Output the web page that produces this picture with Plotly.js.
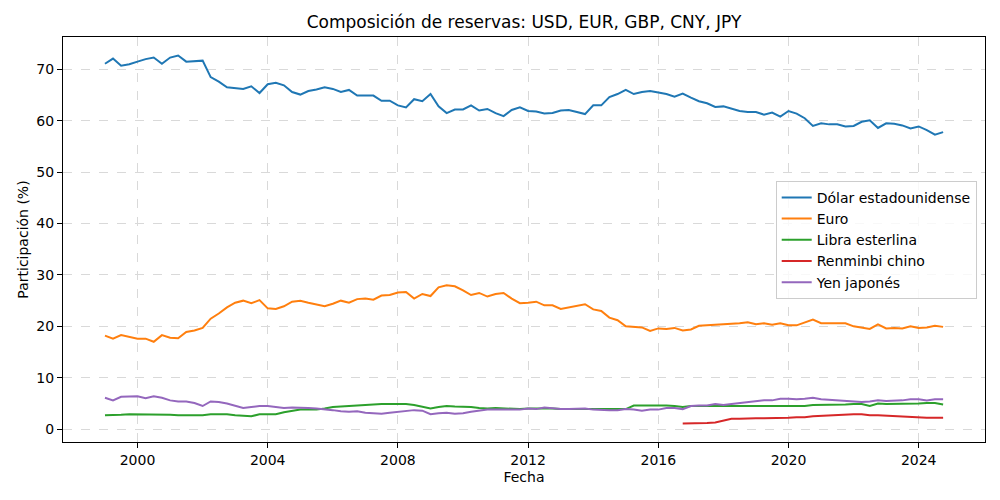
<!DOCTYPE html>
<html>
<head>
<meta charset="utf-8">
<script src="https://cdn.plot.ly/plotly-3.0.1.min.js"></script>
<style>html,body{margin:0;padding:0;background:#fff;}#chart{width:1000px;height:500px;}</style>
</head>
<body>
<div id="chart"></div>
<script>
// Quarterly observations, 1999 Q1 to 2024 Q4
const startYear = 1999;
const numQuarters = 104;

const seriesNames = ["Dólar estadounidense", "Euro", "Libra esterlina", "Renminbi chino", "Yen japonés"];
const seriesColors = ["#1f77b4", "#ff7f0e", "#2ca02c", "#d62728", "#9467bd"];

const usd = [71.1,72.1,70.7,71.0,71.5,72.0,72.3,71.1,72.3,72.7,71.5,71.6,71.7,68.5,67.6,66.5,66.4,66.2,66.7,65.4,67.1,67.4,66.9,65.6,65.1,65.8,66.1,66.5,66.2,
  65.6,66.0,64.9,64.9,64.9,63.9,63.9,63.0,62.6,64.2,63.8,65.2,62.8,61.5,62.2,62.2,63.0,62.0,62.3,61.5,60.9,62.1,62.6,61.9,61.8,61.4,61.5,62.0,
  62.1,61.7,61.3,63.0,63.0,64.6,65.2,66.0,65.2,65.6,65.8,65.5,65.2,64.7,65.3,64.5,63.8,63.4,62.7,62.8,62.4,61.9,61.7,61.7,61.2,61.6,60.8,61.9,
  61.4,60.5,59.0,59.5,59.3,59.3,58.9,59.0,59.8,60.1,58.6,59.5,59.4,59.1,58.5,58.9,58.2,57.3,57.8];

const eur = [18.2,17.6,18.3,18.0,17.6,17.6,17.0,18.3,17.8,17.7,18.9,19.2,19.7,21.5,22.5,23.7,24.6,25.0,24.5,25.1,23.5,23.4,23.9,24.8,25.0,24.6,24.2,23.9,24.4,25.0,24.6,25.3,25.4,25.2,26.0,26.1,
  26.6,26.7,25.4,26.3,25.9,27.6,28.0,27.8,27.0,26.1,26.5,25.8,26.3,26.5,25.4,24.5,24.6,24.8,24.1,24.1,23.4,23.7,24.0,24.3,23.3,23.0,21.7,21.2,20.0,19.9,19.8,19.1,19.6,19.5,19.7,19.2,19.4,
  20.1,20.2,20.3,20.4,20.4,20.6,20.8,20.4,20.6,20.3,20.6,20.2,20.2,20.7,21.3,20.6,20.6,20.6,20.6,20.0,19.7,19.5,20.4,19.6,19.7,19.6,20.0,19.7,19.8,20.1,19.9];

const gbp = [2.7,2.7,2.8,2.9,2.9,2.8,2.8,2.8,2.8,2.7,2.7,2.7,2.7,2.9,2.9,2.9,2.7,2.6,2.5,2.9,2.9,2.9,3.3,3.6,3.8,3.8,3.8,4.0,4.3,4.4,4.5,4.7,4.7,4.9,4.9,4.9,
  4.9,4.9,4.7,4.3,4.0,4.3,4.5,4.4,4.4,4.3,4.1,4.0,4.1,4.0,4.0,3.9,4.0,4.0,4.1,4.0,3.9,3.9,3.9,3.9,3.8,3.8,3.8,3.8,3.9,4.6,4.6,4.7,4.7,4.6,
  4.5,4.3,4.5,4.5,4.5,4.6,4.6,4.5,4.5,4.5,4.5,4.5,4.5,4.6,4.5,4.5,4.5,4.7,4.7,4.7,4.8,4.8,4.9,4.9,4.5,5.0,4.9,4.9,4.9,5.0,5.0,5.1,5.1,4.8];

// Renminbi reported from 2016 Q4 (quarter index 71) onwards
const cnyStartIndex = 71;
const cny = [1.1,1.1,1.1,1.2,1.3,1.6,2.0,2.0,2.1,2.1,2.1,2.1,2.1,2.2,2.3,2.3,2.5,2.6,2.7,2.8,2.9,2.9,2.9,2.7,2.7,2.6,2.5,2.4,2.3,2.2,2.2,2.2,2.2];

const jpy = [6.1,5.6,6.3,6.4,6.4,6.0,6.4,6.1,5.6,5.4,5.4,5.1,4.5,5.4,5.3,5.0,4.6,4.1,4.3,4.5,4.5,4.3,4.1,4.2,4.2,4.1,4.0,3.9,3.7,3.5,3.4,3.5,3.2,3.1,3.0,3.2,
  3.4,3.6,3.7,3.6,2.9,3.1,3.2,3.0,3.1,3.4,3.6,3.8,3.8,3.8,3.8,3.8,4.0,3.9,4.2,4.0,3.9,3.9,3.9,4.0,3.8,3.7,3.7,3.7,3.9,3.8,3.6,3.8,3.8,4.1,
  4.1,3.9,4.5,4.6,4.6,4.9,4.7,4.9,5.1,5.3,5.4,5.6,5.6,5.9,5.9,5.8,5.9,6.1,5.8,5.7,5.7,5.6,5.4,5.3,5.4,5.6,5.5,5.5,5.6,5.8,5.8,5.6,5.8,5.8];

const xTickYears = [2000, 2004, 2008, 2012, 2016, 2020, 2024];

const dates = [];
for (let i = 0; i < numQuarters; i++) {
  const y = startYear + Math.floor(i / 4);
  const m = (i % 4) * 3 + 1;
  dates.push(y + "-" + String(m).padStart(2, "0") + "-01");
}
const cnyDates = dates.slice(cnyStartIndex);

const seriesData = [[dates, usd], [dates, eur], [dates, gbp], [cnyDates, cny], [dates, jpy]];

const traces = seriesData.map((d, k) => ({
  x: d[0], y: d[1], type: "scatter", mode: "lines",
  name: seriesNames[k],
  line: {color: seriesColors[k], width: 2}
}));

const font = "DejaVu Sans, sans-serif";
const layout = {
  width: 1000, height: 500,
  margin: {l: 63, r: 15, t: 37, b: 58},
  paper_bgcolor: "#ffffff", plot_bgcolor: "#ffffff",
  font: {family: font, size: 14, color: "#000"},
  title: {text: "Composición de reservas: USD, EUR, GBP, CNY, JPY", font: {family: font, size: 17, color: "#000"},
          x: 0.5, xref: "paper", y: 1, yref: "paper", yanchor: "bottom", pad: {b: 9}},
  xaxis: {
    type: "date",
    range: ["1997-09-17", "2026-01-14"],
    tickvals: xTickYears.map(y => y + "-01-01"),
    ticktext: xTickYears.map(String),
    showgrid: true, gridcolor: "#d9d9d9", griddash: "dash", gridwidth: 1,
    showline: true, mirror: true, linecolor: "#000", linewidth: 1,
    ticks: "outside", ticklen: 5, tickwidth: 1, tickcolor: "#000",
    tickfont: {family: font, size: 14, color: "#000"},
    zeroline: false,
    title: {text: "Fecha", font: {family: font, size: 14, color: "#000"}, standoff: 5}
  },
  yaxis: {
    range: [-2.5, 76.3],
    tickvals: [0, 10, 20, 30, 40, 50, 60, 70],
    showgrid: true, gridcolor: "#d9d9d9", griddash: "dash", gridwidth: 1,
    showline: true, mirror: true, linecolor: "#000", linewidth: 1,
    ticks: "outside", ticklen: 5, tickwidth: 1, tickcolor: "#000",
    tickfont: {family: font, size: 14, color: "#000"},
    zeroline: false,
    title: {text: "Participación (%)", font: {family: font, size: 14, color: "#000"}, standoff: 4}
  },
  legend: {
    x: 0.773, y: 0.645, xanchor: "left", yanchor: "top",
    bgcolor: "rgba(255,255,255,0.8)", bordercolor: "#cccccc", borderwidth: 1,
    font: {family: font, size: 14, color: "#000"}
  },
  showlegend: true
};

Plotly.newPlot("chart", traces, layout, {displayModeBar: false, staticPlot: true});
</script>
</body>
</html>
